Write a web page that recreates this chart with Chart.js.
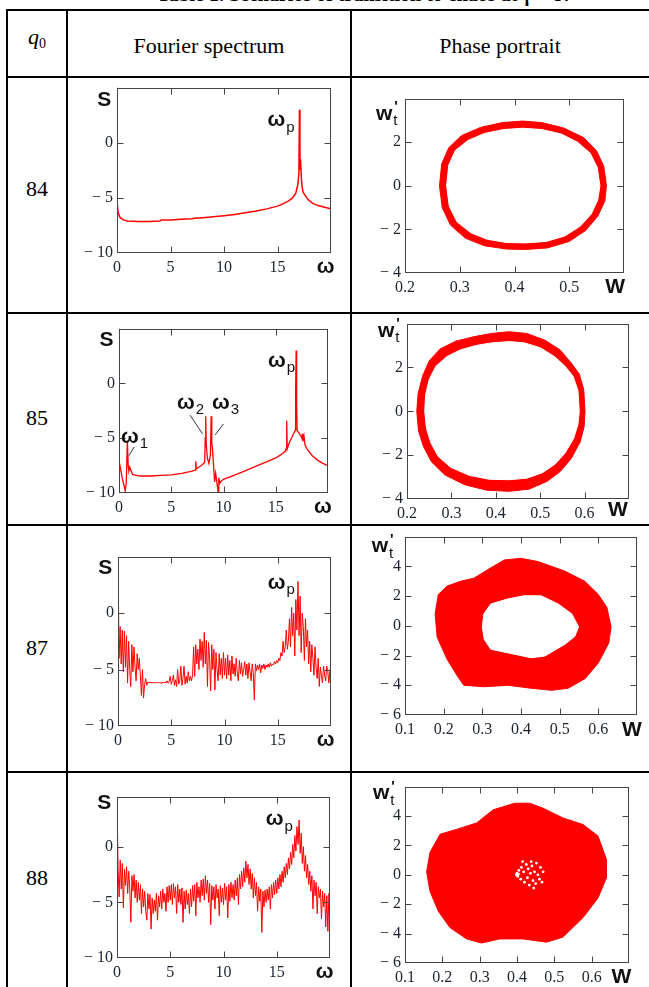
<!DOCTYPE html>
<html>
<head>
<meta charset="utf-8">
<script src="https://cdn.jsdelivr.net/npm/chart.js@4.4.1/dist/chart.umd.min.js"></script>
<style>
  html, body { margin: 0; padding: 0; background: #fff; }
  body { width: 649px; height: 987px; position: relative; overflow: hidden;
         font-family: 'Liberation Serif', 'Times New Roman', serif; color: #000; }
  .rule { position: absolute; background: #000; }
  .cell { position: absolute; font-size: 22px; line-height: 1; white-space: nowrap; transform: translate(-50%, -50%); }
  .cell sub { font-size: 14px; vertical-align: -4px; font-style: normal; }
  .caption { position: absolute; left: 365px; top: -16px; transform: translateX(-50%); font-size: 20px;
             line-height: 20px; font-weight: bold; white-space: nowrap; }
  canvas { position: absolute; }
</style>
</head>
<body>
<div class="caption">Table 1. Scenarios of transition to chaos at γ = 87</div>

<div class="rule" style="left:6px;top:9px;width:643px;height:2px"></div>
<div class="rule" style="left:6px;top:76px;width:643px;height:2px"></div>
<div class="rule" style="left:6px;top:312px;width:643px;height:2px"></div>
<div class="rule" style="left:6px;top:524px;width:643px;height:2px"></div>
<div class="rule" style="left:6px;top:771px;width:643px;height:2px"></div>
<div class="rule" style="left:6px;top:9px;width:2px;height:978px"></div>
<div class="rule" style="left:66px;top:9px;width:2px;height:978px"></div>
<div class="rule" style="left:350px;top:9px;width:2px;height:978px"></div>

<div class="cell" style="left:37px;top:38px"><i>q</i><sub>0</sub></div>
<div class="cell" style="left:209px;top:46px">Fourier spectrum</div>
<div class="cell" style="left:500px;top:46px">Phase portrait</div>
<div class="cell" style="left:37px;top:189px">84</div>
<div class="cell" style="left:37px;top:418px">85</div>
<div class="cell" style="left:37px;top:648px">87</div>
<div class="cell" style="left:37px;top:878px">88</div>

<canvas id="spec84"></canvas>
<canvas id="spec85"></canvas>
<canvas id="spec87"></canvas>
<canvas id="spec88"></canvas>
<canvas id="phase84"></canvas>
<canvas id="phase85"></canvas>
<canvas id="phase87"></canvas>
<canvas id="phase88"></canvas>

<script>
// ---- spectra S(ω) ----
const w84 = [0, 0.02, 0.1, 0.3, 0.6, 1, 2, 3, 4, 4.2, 5, 6, 7, 7.2, 8, 9, 10, 11, 12, 13,
  14, 15, 15.5, 16, 16.4, 16.7, 16.9, 17.0, 17.05, 17.1, 17.15, 17.25, 17.3, 17.4, 17.6, 17.9, 18.3, 18.8, 19.4, 20];
const s84 = [5, -5.5, -6.3, -6.8, -7.0, -7.1, -7.15, -7.15, -7.1, -7.0, -7.0, -6.95, -6.9, -6.85, -6.8, -6.72, -6.62, -6.5, -6.35, -6.2,
  -6.0, -5.75, -5.55, -5.3, -5.0, -4.6, -3.8, -2.8, 3.0, -2.5, -1.5, -3.5, -4.0, -4.5, -4.8, -5.2, -5.5, -5.7, -5.85, -6.0];

const w85 = [0, 0.03, 0.15, 0.3, 0.45, 0.6, 0.7, 0.8, 0.88, 0.95, 1.05, 1.3, 2, 3, 4, 5, 6, 7, 7.3, 7.35,
  7.4, 7.7, 8.0, 8.2, 8.25, 8.3, 8.35, 8.45, 8.6, 8.75, 8.82, 8.88, 8.95, 9.05, 9.15, 9.25, 9.35, 9.5, 9.55, 9.65,
  9.8, 10, 11, 12, 13, 14, 15, 15.5, 15.9, 16.0, 16.05, 16.1, 16.3, 16.5, 16.7, 16.85, 16.9, 16.95, 17.0, 17.05,
  17.2, 17.4, 17.5, 17.55, 17.6, 17.7, 17.8, 18, 18.5, 19, 19.5, 20];
const s85 = [5, -7.2, -7.8, -8.6, -9.2, -9.8, -9.0, -5.2, -7.5, -8.0, -7.7, -8.3, -8.45, -8.45, -8.4, -8.35, -8.2, -8.0, -7.9, -7.1,
  -7.8, -7.6, -7.4, -7.2, -5.0, -3.0, -5.5, -6.8, -7.3, -6.5, -3.0, -5.4, -6.0, -7.5, -9.0, -8.2, -8.9, -10.0, -8.6, -9.1,
  -8.9, -8.75, -8.4, -8.0, -7.6, -7.2, -6.8, -6.5, -6.2, -5.9, -3.4, -6.0, -5.4, -5.0, -4.6, -4.3, -1.0, 3.0, -2.0, -4.3,
  -4.5, -4.8, -5.0, -4.6, -5.3, -4.8, -5.6, -6.0, -6.6, -7.0, -7.3, -7.5];

// noisy spectra, sampled every dw from ω = 0 to 20
const dw = 0.1;
const s87 = [
  5, -4.0, -1.2, -4.5, -1.5, -5.2, -1.6, -4.8, -2.0, -6.2,
  -2.5, -5.0, -6.5, -2.8, -5.2, -3.0, -4.8, -6.0, -3.6, -5.0,
  -4.0, -5.5, -7.3, -5.0, -7.5, -6.3, -5.8, -6.4, -6.1, -6.2,
  -6.1, -6.2, -6.15, -6.2, -6.1, -6.2, -6.15, -6.2, -6.1, -6.2,
  -6.1, -6.25, -6.1, -6.2, -6.1, -6.2, -6.0, -6.2, -6.1, -5.6,
  -6.3, -6.0, -5.5, -6.4, -5.9, -6.5, -5.0, -6.3, -6.0, -4.7,
  -6.4, -5.8, -4.7, -6.3, -5.6, -6.2, -5.2, -6.0, -5.6, -6.0,
  -5.5, -3.0, -5.6, -2.8, -4.5, -3.2, -5.0, -2.3, -4.2, -2.5,
  -4.8, -1.7, -4.5, -2.4, -6.5, -2.6, -4.0, -6.9, -2.8, -5.0,
  -3.2, -6.8, -3.5, -5.0, -6.0, -3.6, -5.5, -4.0, -5.8, -3.5,
  -5.5, -4.0, -5.8, -3.7, -5.5, -4.2, -6.0, -3.8, -5.4, -4.5,
  -5.6, -4.0, -5.3, -6.0, -4.2, -5.4, -4.4, -5.6, -5.0, -4.3,
  -5.5, -4.5, -5.8, -4.4, -5.2, -6.0, -4.5, -5.3, -7.7, -4.5,
  -5.1, -4.6, -5.0, -4.5, -5.3, -4.6, -4.9, -4.5, -5.0, -4.6,
  -4.8, -4.5, -4.8, -4.4, -4.7, -4.5, -4.6, -4.3, -4.5, -4.2,
  -4.4, -4.0, -4.2, -3.5, -3.8, -2.5, -3.5, -3.0, -1.5, -3.2,
  -2.5, -0.5, -3.0, 0.5, -2.0, 0.0, -3.8, 1.2, -1.5, 2.8,
  -2.0, 1.5, -3.5, 0.0, -1.2, -4.2, -0.5, -3.0, -1.5, -4.5,
  -2.5, -5.2, -2.8, -4.0, -5.5, -3.0, -4.8, -5.8, -4.0, -6.5,
  -4.8, -5.5, -6.2, -4.7, -5.5, -6.0, -4.7, -5.2, -6.2, -5.0,
  -5.2];
const s88 = [
  4.5, -2.0, -4.5, -1.2, -3.8, -1.5, -5.5, -2.0, -3.5, -1.8,
  -4.2, -2.2, -3.8, -6.8, -2.6, -4.0, -2.5, -4.6, -3.0, -5.0,
  -3.2, -4.8, -3.4, -6.0, -3.8, -5.4, -4.0, -5.8, -6.6, -4.2,
  -5.6, -4.3, -7.4, -4.6, -6.0, -4.8, -5.8, -4.2, -6.6, -4.4,
  -5.4, -4.0, -5.6, -3.8, -5.0, -4.2, -5.8, -3.6, -5.0, -3.5,
  -4.8, -3.4, -5.2, -3.3, -4.6, -3.6, -6.0, -3.4, -5.0, -3.8,
  -5.2, -3.7, -6.8, -4.0, -5.6, -3.9, -5.2, -4.2, -6.0, -3.8,
  -5.4, -3.5, -4.9, -3.4, -6.2, -3.2, -4.6, -3.6, -5.0, -3.0,
  -4.4, -2.9, -4.8, -2.6, -4.2, -3.0, -5.0, -3.3, -7.0, -3.5,
  -4.8, -3.6, -5.6, -3.4, -4.6, -3.8, -6.2, -3.5, -5.0, -3.7,
  -5.2, -3.3, -4.8, -3.6, -6.4, -3.4, -4.9, -3.2, -4.6, -3.4,
  -4.8, -3.0, -4.4, -2.8, -5.2, -2.5, -3.8, -2.2, -3.6, -1.9,
  -3.2, -1.3, -2.8, -1.6, -3.4, -2.0, -3.8, -2.4, -4.6, -2.8,
  -4.4, -3.2, -5.8, -3.6, -4.9, -3.8, -7.7, -4.0, -5.4, -3.9,
  -5.0, -3.8, -4.8, -3.6, -5.6, -3.4, -4.6, -3.2, -4.3, -3.0,
  -4.2, -2.8, -3.8, -2.5, -3.6, -2.2, -3.2, -1.8, -2.8, -1.5,
  -2.5, -1.0, -2.0, -0.5, -1.6, 0.2, -1.0, 1.0, -0.4, 1.8,
  0.2, 2.4, -0.6, 1.2, -1.5, 0.0, -2.2, -0.8, -2.8, -1.6,
  -3.4, -2.2, -4.0, -2.6, -5.6, -3.0, -4.4, -3.2, -6.0, -3.6,
  -4.6, -3.8, -6.5, -4.0, -5.4, -4.2, -7.2, -4.4, -7.6, -4.2,
  -6.0];

// ---- phase portraits (w, w't) : outer / inner edges of the band ----
const orbit84Out = [[0.568, 0], [0.563, 0.9], [0.55, 1.6], [0.527, 2.2], [0.49, 2.65], [0.45, 2.9], [0.415, 2.97],
  [0.378, 2.9], [0.338, 2.68], [0.303, 2.3], [0.28, 1.75], [0.267, 1.0], [0.263, 0], [0.268, -1.0], [0.283, -1.8],
  [0.31, -2.4], [0.345, -2.75], [0.385, -2.9], [0.42, -2.92], [0.46, -2.85], [0.5, -2.55], [0.53, -2.05],
  [0.552, -1.4], [0.565, -0.7], [0.568, 0]];
const orbit84In = [[0.556, 0], [0.551, 0.85], [0.538, 1.5], [0.515, 2.0], [0.485, 2.38], [0.45, 2.58], [0.415, 2.64],
  [0.38, 2.58], [0.345, 2.4], [0.315, 2.08], [0.292, 1.62], [0.28, 0.95], [0.276, 0], [0.281, -0.95], [0.295, -1.65],
  [0.32, -2.15], [0.35, -2.45], [0.385, -2.6], [0.42, -2.62], [0.458, -2.55], [0.492, -2.3], [0.52, -1.85],
  [0.54, -1.3], [0.552, -0.65], [0.556, 0]];

const orbit85Out = [[0.601, 0], [0.598, 1.0], [0.588, 1.7], [0.57, 2.2], [0.545, 2.8], [0.51, 3.25], [0.47, 3.55],
  [0.43, 3.63], [0.39, 3.55], [0.35, 3.4], [0.31, 3.2], [0.275, 2.85], [0.25, 2.3], [0.235, 1.6], [0.225, 0.8],
  [0.222, 0], [0.226, -0.9], [0.237, -1.6], [0.255, -2.3], [0.285, -2.9], [0.33, -3.35], [0.38, -3.6], [0.43, -3.65],
  [0.475, -3.55], [0.515, -3.2], [0.545, -2.75], [0.57, -2.15], [0.59, -1.4], [0.599, -0.7], [0.601, 0]];
const orbit85In = [[0.588, 0], [0.585, 0.95], [0.574, 1.6], [0.556, 2.05], [0.532, 2.5], [0.5, 2.9], [0.465, 3.12],
  [0.43, 3.18], [0.39, 3.12], [0.355, 3.0], [0.32, 2.8], [0.29, 2.5], [0.265, 2.05], [0.25, 1.45], [0.242, 0.75],
  [0.24, 0], [0.244, -0.8], [0.254, -1.45], [0.27, -2.05], [0.298, -2.55], [0.34, -2.92], [0.385, -3.1], [0.43, -3.12],
  [0.47, -3.05], [0.505, -2.8], [0.534, -2.4], [0.556, -1.9], [0.575, -1.25], [0.585, -0.6], [0.588, 0]];

const orbit87Out = [[0.40, 4.54], [0.444, 4.32], [0.513, 3.68], [0.565, 3.0], [0.60, 2.1], [0.622, 1.25], [0.633, -0.07],
  [0.627, -1.16], [0.60, -2.5], [0.566, -3.55], [0.522, -4.2], [0.479, -4.34], [0.426, -4.2], [0.366, -4.0],
  [0.305, -4.1], [0.252, -4.0], [0.235, -3.36], [0.209, -2.26], [0.183, -0.75], [0.178, 0.8], [0.186, 2.1],
  [0.209, 2.67], [0.244, 3.0], [0.278, 3.2], [0.322, 3.9], [0.357, 4.43], [0.40, 4.54]];
const orbit87In = [[0.30, -0.07], [0.304, 0.81], [0.322, 1.47], [0.365, 1.8], [0.408, 2.02], [0.452, 2.02], [0.496, 1.47],
  [0.531, 0.81], [0.549, -0.07], [0.539, -0.72], [0.513, -1.25], [0.461, -2.04], [0.426, -2.15], [0.366, -1.82],
  [0.322, -1.58], [0.305, -0.92], [0.30, -0.07]];

const orbit88Out = [[0.394, 4.87], [0.434, 4.87], [0.47, 4.53], [0.523, 3.87], [0.577, 3.42], [0.617, 2.64], [0.639, 1.09],
  [0.639, -0.24], [0.617, -1.58], [0.577, -2.91], [0.523, -4.24], [0.479, -4.58], [0.416, -4.36], [0.354, -4.36],
  [0.305, -4.64], [0.265, -4.36], [0.22, -3.58], [0.189, -2.47], [0.167, -1.13], [0.158, 0.2], [0.167, 1.53],
  [0.194, 2.76], [0.238, 3.09], [0.292, 3.53], [0.336, 4.42], [0.394, 4.87]];
const holes88 = [[0.40, 0.1], [0.402, -0.1], [0.405, 0.3], [0.41, -0.3], [0.412, 0.5], [0.418, 0.2], [0.42, -0.5],
  [0.425, 0.7], [0.428, -0.2], [0.43, 0.4], [0.433, -0.7], [0.436, 0.1], [0.44, 0.6], [0.443, -0.4], [0.447, 0.2],
  [0.45, -0.6], [0.452, 0.8], [0.456, 0.0], [0.46, -0.3], [0.463, 0.5], [0.467, -0.5], [0.47, 0.2], [0.415, 0.9],
  [0.445, -0.9], [0.438, 0.9], [0.398, 0.0], [0.404, 0.05]];

// ---- drawing ----
const RED = '#ff0000';
const INK = '#111';
const TICK = '#1b2230';
const SYM = 'bold 21px "Liberation Sans", Arial, sans-serif';
const SUB = '15px "Liberation Sans", Arial, sans-serif';
const PAD = { l: 48, r: 12, t: 10, b: 30 };

const minus = v => (v < 0 ? '\u2212 ' + Math.abs(v) : String(v));

function overlay(notes) {
  return {
    id: 'overlay',
    afterDraw(chart) {
      const { ctx, chartArea: a, scales: { x, y } } = chart;
      ctx.save();
      const L = Math.round(a.left) + 0.5, R = Math.round(a.right) - 0.5;
      const T = Math.round(a.top) + 0.5, B = Math.round(a.bottom) - 0.5;
      ctx.strokeStyle = '#444';
      ctx.lineWidth = 1;
      ctx.strokeRect(L, T, R - L, B - T);
      ctx.beginPath();
      x.ticks.forEach(t => {
        if (t.value <= x.min + 1e-9 || t.value >= x.max - 1e-9) return;
        const p = Math.round(x.getPixelForValue(t.value)) + 0.5;
        ctx.moveTo(p, T); ctx.lineTo(p, T + 6);
        ctx.moveTo(p, B); ctx.lineTo(p, B - 6);
      });
      y.ticks.forEach(t => {
        if (t.value <= y.min + 1e-9 || t.value >= y.max - 1e-9) return;
        const p = Math.round(y.getPixelForValue(t.value)) + 0.5;
        ctx.moveTo(L, p); ctx.lineTo(L + 6, p);
        ctx.moveTo(R, p); ctx.lineTo(R - 6, p);
      });
      ctx.stroke();

      notes.forEach(n => {
        const px = x.getPixelForValue(n.x), py = y.getPixelForValue(n.y);
        if (n.to) {
          ctx.beginPath();
          ctx.strokeStyle = '#333';
          ctx.moveTo(px, py);
          ctx.lineTo(x.getPixelForValue(n.to[0]), y.getPixelForValue(n.to[1]));
          ctx.stroke();
          return;
        }
        ctx.fillStyle = INK;
        ctx.font = SYM;
        ctx.textAlign = 'center';
        ctx.textBaseline = 'middle';
        ctx.fillText(n.t, px, py);
        const half = ctx.measureText(n.t).width / 2;
        ctx.font = SUB;
        ctx.textAlign = 'left';
        if (n.sub) ctx.fillText(n.sub, px + half + 1, py + 7);
        if (n.sup) { ctx.font = 'bold ' + SUB; ctx.fillText(n.sup, px + half + 2, py - 7); }
      });
      ctx.restore();
    }
  };
}

function scales(xr, yr, fmtX) {
  const font = { family: '"Liberation Serif", "Times New Roman", serif', size: 16 };
  return {
    x: {
      type: 'linear', min: xr[0], max: xr[1],
      afterFit: s => { s.height = PAD.b; },
      grid: { display: false, drawTicks: false }, border: { display: false },
      ticks: { stepSize: xr[2], autoSkip: false, maxRotation: 0, padding: 5, color: TICK, font,
        callback: v => (v >= xr[1] - 1e-9 ? '' : fmtX(v)) }
    },
    y: {
      type: 'linear', min: yr[0], max: yr[1],
      afterFit: s => { s.width = PAD.l; },
      grid: { display: false, drawTicks: false }, border: { display: false },
      ticks: { stepSize: yr[2], autoSkip: false, padding: 4, color: TICK, font,
        callback: v => (v >= yr[1] - 1e-9 ? '' : minus(v)) }
    }
  };
}

function makeChart(id, box, datasets, xr, yr, fmtX, notes) {
  const canvas = document.getElementById(id);
  canvas.width = box.r - box.l + PAD.l + PAD.r;
  canvas.height = box.b - box.t + PAD.t + PAD.b;
  canvas.style.left = (box.l - PAD.l) + 'px';
  canvas.style.top = (box.t - PAD.t) + 'px';
  return new Chart(canvas, {
    type: 'line',
    data: { datasets },
    options: {
      responsive: false, animation: false, devicePixelRatio: 1,
      layout: { padding: { top: PAD.t, right: PAD.r, left: 0, bottom: 0 } },
      plugins: { legend: { display: false }, tooltip: { enabled: false } },
      scales: scales(xr, yr, fmtX)
    },
    plugins: [overlay(notes)]
  });
}

const pairs = (ws, ss) => ss.map((v, i) => ({ x: ws[i], y: v }));
const sampled = ss => ss.map((v, i) => ({ x: +(i * dw).toFixed(1), y: v }));
const pts = list => list.map(([w, v]) => ({ x: w, y: v }));

const specLine = (data, width) => ({ data, borderColor: RED, borderWidth: width, pointRadius: 0, tension: 0, fill: false });
const band = (list, color, order) => ({ data: pts(list), borderColor: color, backgroundColor: color, borderWidth: 1,
  pointRadius: 0, tension: 0, fill: 'shape', order });

const specNotes = (top, peak) => [
  { t: 'S', x: -1.2, y: top },
  { t: 'ω', x: 19.5, y: -11.3 },
  { t: 'ω', sub: 'p', x: peak[0], y: peak[1] }
];
const intW = v => String(v);
const decW = v => v.toFixed(1);

makeChart('spec84', { l: 117, t: 84, r: 331, b: 253 }, [specLine(pairs(w84, s84), 1.5)],
  [0, 20, 5], [-10, 5, 5], intW, specNotes(3.85, [14.9, 2.0]));

makeChart('spec85', { l: 119, t: 325, r: 328, b: 493 }, [specLine(pairs(w85, s85), 1.3)],
  [0, 20, 5], [-10, 5, 5], intW, specNotes(3.9, [15.1, 2.05]).concat([
    { t: 'ω', sub: '1', x: 1.05, y: -4.9 },
    { t: 'ω', sub: '2', x: 6.4, y: -1.8 },
    { t: 'ω', sub: '3', x: 9.75, y: -1.8 },
    { x: 1.45, y: -5.8, to: [0.95, -6.6] },
    { x: 6.8, y: -2.9, to: [8.0, -4.6] },
    { x: 10.0, y: -3.7, to: [9.2, -4.7] }
  ]));

makeChart('spec87', { l: 118, t: 553, r: 331, b: 726 }, [specLine(sampled(s87), 1)],
  [0, 20, 5], [-10, 5, 5], intW, specNotes(3.96, [14.9, 2.66]));

makeChart('spec88', { l: 117, t: 793, r: 330, b: 958 }, [specLine(sampled(s88), 1)],
  [0, 20, 5], [-10, 4.5, 5], intW, specNotes(3.95, [14.8, 2.45]));

const phaseNotes = (wAt, WAt) => [
  { t: 'w', sup: "'", sub: 't', x: wAt[0], y: wAt[1] },
  { t: 'W', x: WAt[0], y: WAt[1] }
];

makeChart('phase84', { l: 405, t: 95, r: 624, b: 273 },
  [band(orbit84In, '#ffffff', 1), band(orbit84Out, RED, 2)],
  [0.2, 0.6, 0.1], [-4, 4, 2], decW, phaseNotes([0.162, 3.3], [0.584, -4.65]));

makeChart('phase85', { l: 407, t: 320, r: 629, b: 499 },
  [band(orbit85In, '#ffffff', 1), band(orbit85Out, RED, 2)],
  [0.2, 0.7, 0.1], [-4, 4, 2], decW, phaseNotes([0.153, 3.66], [0.675, -4.5]));

makeChart('phase87', { l: 405, t: 533, r: 637, b: 715 },
  [band(orbit87In, '#ffffff', 1), band(orbit87Out, RED, 2)],
  [0.1, 0.7, 0.1], [-6, 6, 2], decW, phaseNotes([0.035, 5.33], [0.687, -7.05]));

makeChart('phase88', { l: 405, t: 783, r: 629, b: 963 },
  [{ data: pts(holes88), showLine: false, pointRadius: 1.4, pointBorderWidth: 0,
     pointBackgroundColor: '#ffffff', order: 0 },
   band(orbit88Out, RED, 2)],
  [0.1, 0.7, 0.1], [-6, 6, 2], decW, phaseNotes([0.036, 5.53], [0.68, -6.95]));
</script>
</body>
</html>
